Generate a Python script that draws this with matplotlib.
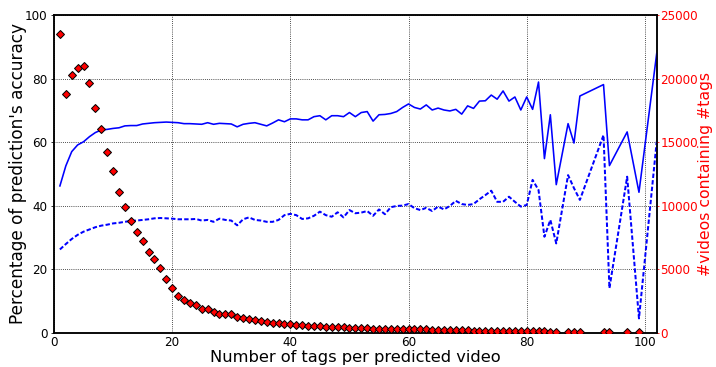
import matplotlib
matplotlib.use("Agg")
import matplotlib.pyplot as plt

# Number of tags per predicted video (x positions present in the data)
tags = list(range(1, 86)) + [87, 88, 89, 93, 94, 97, 99, 102]

# Accuracy (%) – solid curve
acc_solid = [
    46.2, 52.5, 57.0, 59.1, 60.1, 61.7, 63.0, 63.8, 64.0, 64.3,   # 1-10
    64.5, 65.1, 65.2, 65.2, 65.7, 65.9, 66.1, 66.2, 66.3, 66.2,   # 11-20
    66.1, 65.8, 65.8, 65.7, 65.6, 66.1, 65.6, 65.9, 65.8, 65.7,   # 21-30
    64.8, 65.6, 65.9, 66.1, 65.6, 65.1, 66.0, 67.0, 66.4, 67.3,   # 31-40
    67.3, 67.0, 67.0, 68.0, 68.3, 67.0, 68.3, 68.3, 68.0, 69.3,   # 41-50
    68.0, 69.3, 69.6, 66.6, 68.6, 68.7, 69.0, 69.6, 70.9, 72.0,   # 51-60
    70.9, 70.4, 71.7, 70.1, 70.7, 70.1, 69.8, 70.3, 68.8, 71.4,   # 61-70
    70.6, 72.9, 73.0, 74.8, 73.5, 76.1, 72.9, 74.2, 70.1, 74.2,   # 71-80
    70.3, 78.9, 54.8, 68.6, 46.6,                                 # 81-85
    65.8, 59.7, 74.5, 78.1, 52.6, 63.2, 44.2, 87.9,               # 87..102
]

# Accuracy (%) – dashed curve
acc_dashed = [
    26.2, 27.9, 29.5, 30.8, 31.8, 32.5, 33.2, 33.7, 34.0, 34.4,   # 1-10
    34.6, 34.9, 35.2, 35.3, 35.5, 35.7, 36.0, 36.1, 36.0, 35.9,   # 11-20
    35.7, 35.7, 35.7, 35.8, 35.3, 35.5, 34.9, 35.9, 35.5, 35.3,   # 21-30
    33.8, 35.7, 36.3, 35.5, 35.3, 34.9, 34.9, 35.5, 37.0, 37.4,   # 31-40
    37.0, 35.8, 36.0, 36.8, 38.1, 37.0, 36.5, 37.9, 36.3, 38.6,   # 41-50
    37.6, 37.8, 38.3, 36.8, 38.8, 37.3, 39.5, 39.9, 40.0, 40.5,   # 51-60
    39.2, 38.6, 39.3, 38.3, 39.7, 38.8, 39.9, 41.5, 40.5, 40.2,   # 61-70
    40.5, 42.0, 43.3, 44.7, 41.2, 41.2, 42.8, 41.2, 39.7, 40.2,   # 71-80
    48.1, 44.9, 30.2, 35.5, 28.1,                                 # 81-85
    49.6, 45.5, 41.8, 62.2, 14.0, 49.1, 4.5, 60.1,                # 87..102
]

# Number of videos containing that many tags
count_tags = list(range(1, 86)) + [87, 88, 89, 93, 94, 97, 99]
video_counts = [
    23500, 18780, 20250, 20800, 21000, 19670, 17700, 16000, 14240, 12700,
    11050, 9920, 8790, 7950, 7240, 6370, 5780, 5070, 4200, 3490,
    2890, 2570, 2310, 2200, 1890, 1840, 1650, 1500, 1470, 1470,
    1260, 1180, 1054, 976, 897, 842, 763, 740, 708, 685,
    630, 590, 550, 527, 500, 472, 449, 472, 449, 393,
    370, 346, 346, 315, 315, 291, 291, 291, 291, 315,
    291, 268, 268, 236, 236, 212, 205, 200, 190, 180,
    170, 160, 150, 140, 134, 130, 125, 120, 115, 110,
    105, 100, 95, 90, 85,
    80, 75, 70, 65, 60, 55, 50,
]

left_ticks = [0, 20, 40, 60, 80, 100]
right_ticks = [0, 5000, 10000, 15000, 20000, 25000]
x_ticks = [0, 20, 40, 60, 80, 100]

plt.rcParams["font.family"] = "DejaVu Sans"

W, H, DPI = 716, 367, 72
fig = plt.figure(figsize=(W / DPI, H / DPI), dpi=DPI, facecolor="white")
ax = fig.add_axes([54 / W, 34.3 / H, 602.7 / W, 317.7 / H])

ax.plot(tags, acc_solid, color="blue", lw=1.6, zorder=3)
ax.plot(tags, acc_dashed, color="blue", lw=2, dashes=(2.2, 1.1), zorder=3)

ax.set_xlim(0, 102)
ax.set_ylim(0, 100)
ax.set_xticks(x_ticks)
ax.set_yticks(left_ticks)
ax.grid(True, color="black", linestyle=":", lw=0.8)
ax.tick_params(axis="both", labelsize=12, direction="out")
ax.tick_params(axis="y", length=3)
ax.tick_params(axis="x", length=0, pad=3)
ax.set_xlabel("Number of tags per predicted video", fontsize=16.2, labelpad=1)
ax.set_ylabel("Percentage of prediction's accuracy", fontsize=16.9, labelpad=-2)

ax2 = ax.twinx()
ax2.plot(count_tags, video_counts, linestyle="none", marker="D",
         markersize=6, markerfacecolor="red", markeredgecolor="black",
         markeredgewidth=1.0, zorder=4)
ax2.set_ylim(0, 25000)
ax2.set_yticks(right_ticks)
ax2.tick_params(axis="y", labelsize=12, colors="red", direction="out",
                length=2, pad=1.5)
ax2.set_ylabel("#videos containing #tags", fontsize=15.8, color="red", labelpad=0)

for a in (ax, ax2):
    for s in a.spines.values():
        s.set_linewidth(1.5)
        s.set_color("black")

fig.savefig("out.png", dpi=DPI, facecolor="white")
